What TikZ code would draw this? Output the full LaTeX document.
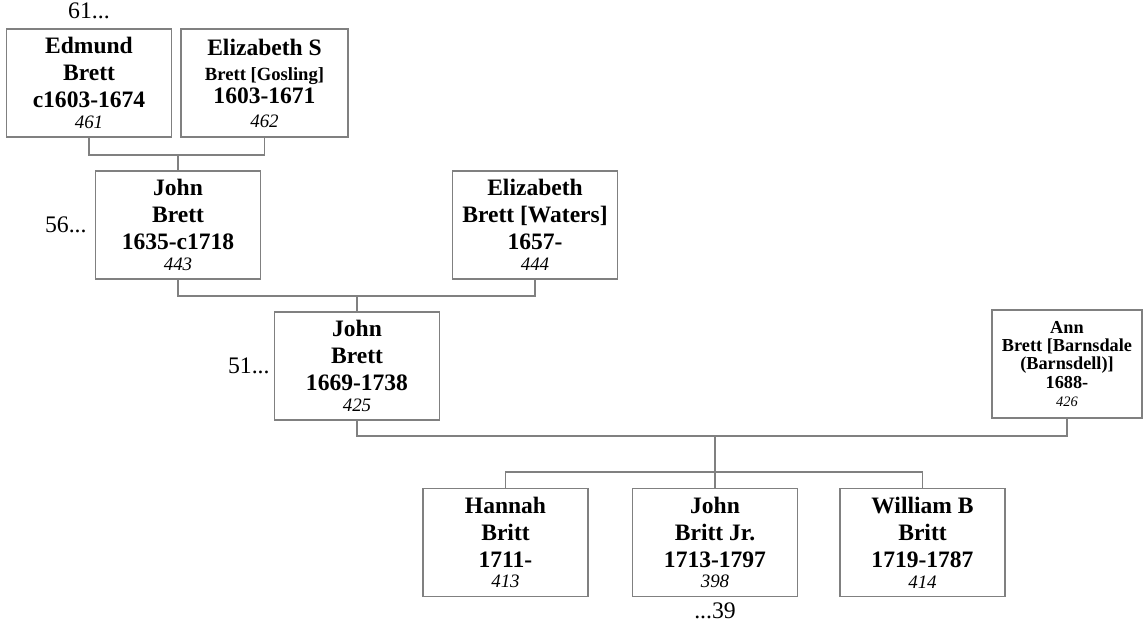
\documentclass[tikz,border=0pt]{standalone}
\usepackage{fontspec}
\setmainfont{Liberation Serif}
\usetikzlibrary{positioning,calc}
\newcommand\nid[1]{{\fontsize{10.8}{12}\selectfont\mdseries\itshape #1}}
\tikzset{p/.style={draw=gray,line width=.7pt,minimum width=3.3cm,minimum height=2.16cm,inner sep=0pt,
   align=center,font=\fontsize{13.4}{15.3}\selectfont\bfseries},
 ps/.style={p,minimum width=3cm,font=\fontsize{10.4}{10.3}\selectfont\bfseries},
 wire/.style={draw=gray,line width=.7pt},
 lab/.style={inner sep=0pt,font=\fontsize{13.5}{16}\selectfont}}

\begin{document}
\begin{tikzpicture}[x=0.02cm,y=-0.02cm]
\useasboundingbox (0,0) rectangle (1147,626);
% grandparents
\node[p](edm) at (89,83){Edmund\\Brett\\c1603-1674\\[-3.4pt]\nid{461}};
\node[p,minimum width=3.34cm](els) at (264.5,83){Elizabeth S\\[-1pt]{\fontsize{10.6}{12}\selectfont Brett [Gosling]}\\[-2pt]1603-1671\\[-2pt]\nid{462}};
% parents
\node[p](jn1) at (178,225){John\\Brett\\1635-c1718\\[-3.4pt]\nid{443}};
\node[p](elw) at (535,225){Elizabeth\\Brett [Waters]\\1657-\\[-3.4pt]\nid{444}};
\node[p](jn2) at (357,366){John\\Brett\\1669-1738\\[-3.4pt]\nid{425}};
\node[ps](ann) at (1067,364){Ann\\Brett [Barnsdale\\(Barnsdell)]\\1688-\\{\fontsize{8.2}{9}\selectfont\mdseries\itshape 426}};
% children
\foreach \n/\x/\txt in {hnh/505.5/{Hannah\\Britt\\1711-\\[-3.4pt]\nid{413}},
  jjr/715/{John\\Britt Jr.\\1713-1797\\[-3.4pt]\nid{398}},
  wlm/922.5/{William B\\Britt\\1719-1787\\[-3.4pt]\nid{414}}}
 \node[p](\n) at (\x,542.5){\txt};
% generation labels
\node[lab,above=0.18cm of edm](g61){61...};
\node[lab,left=0.16cm of jn1](g56){56...};
\node[lab,left=0.08cm of jn2](g51){51...};
\node[lab,below=0.1cm of jjr](g39){...39};
% family lines
\coordinate (m1) at (178,155);
\coordinate (m2) at (357,296);
\coordinate (m3) at (715,436);
\coordinate (b3) at (715,472);
\draw[wire](edm.south)|-(m1)-|(els.south);
\draw[wire](m1)--(jn1.north);
\draw[wire](jn1.south)|-(m2)-|(elw.south);
\draw[wire](m2)--(jn2.north);
\draw[wire](jn2.south)|-(m3)-|(ann.south);
\draw[wire](m3)--(b3);
\draw[wire](hnh.north)|-(b3)-|(wlm.north);
\draw[wire](b3)--(jjr.north);
\end{tikzpicture}
\end{document}
